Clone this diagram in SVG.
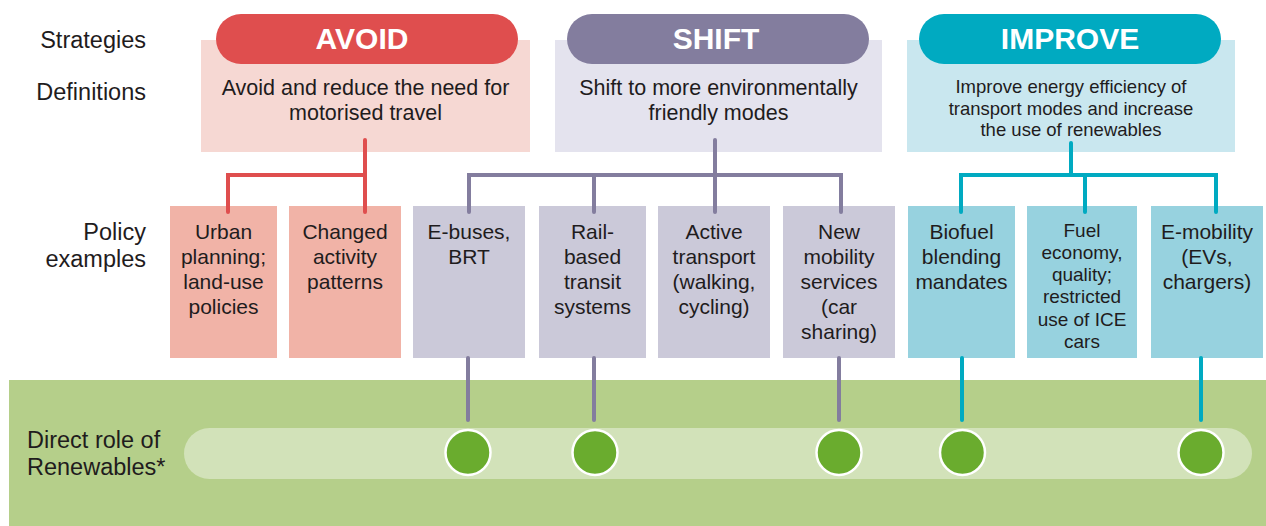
<svg xmlns="http://www.w3.org/2000/svg" width="1266" height="526" viewBox="0 0 1266 526">
  <style>
    .lbl { font-family: "Liberation Sans", Arial, sans-serif; font-size: 23.5px; fill: #1f1c1d; }
    .def { font-family: "Liberation Sans", Arial, sans-serif; font-size: 21.5px; fill: #1f1c1d; text-anchor: middle; }
    .def-s { font-family: "Liberation Sans", Arial, sans-serif; font-size: 18.5px; fill: #1f1c1d; text-anchor: middle; }
    .pol { font-family: "Liberation Sans", Arial, sans-serif; font-size: 21px; fill: #1f1c1d; text-anchor: middle; }
    .pol-s { font-family: "Liberation Sans", Arial, sans-serif; font-size: 19px; fill: #1f1c1d; text-anchor: middle; }
    .ttl { font-family: "Liberation Sans", Arial, sans-serif; font-size: 30px; font-weight: bold; fill: #ffffff; text-anchor: middle; }
    .avoid-line { stroke: #df4e4e; }
    .shift-line { stroke: #837d9e; }
    .improve-line { stroke: #00aac1; }
    .conn path { fill: none; stroke-width: 4; stroke-linecap: round; stroke-linejoin: miter; }
    .dot { fill: #6aac2e; stroke: #ffffff; stroke-width: 2.5; }
  </style>

  <!-- renewables band -->
  <g id="renewables-band">
    <rect x="9" y="380" width="1257" height="146" fill="#b5cf8a"/>
    <rect x="184" y="428" width="1068" height="51" rx="25.5" fill="#d2e2b9"/>
  </g>

  <!-- row labels -->
  <g id="row-labels">
    <text class="lbl" x="146" y="48" text-anchor="end">Strategies</text>
    <text class="lbl" x="146" y="100" text-anchor="end">Definitions</text>
    <text class="lbl" x="146" y="240" text-anchor="end">Policy</text>
    <text class="lbl" x="146" y="267" text-anchor="end">examples</text>
    <text class="lbl" x="27" y="448">Direct role of</text>
    <text class="lbl" x="27" y="475">Renewables*</text>
  </g>

  <!-- strategy headers with definitions -->
  <g id="avoid">
    <rect x="201" y="40" width="329" height="112" fill="#f6d8d3"/>
    <rect x="216" y="14" width="302" height="50" rx="25" fill="#df4e4e"/>
    <text class="ttl" x="362" y="49">AVOID</text>
    <text class="def" x="365.5" y="95">Avoid and reduce the need for</text>
    <text class="def" x="365.5" y="120">motorised travel</text>
  </g>
  <g id="shift">
    <rect x="555" y="40" width="327" height="112" fill="#e4e3ee"/>
    <rect x="567" y="14" width="302" height="50" rx="25" fill="#837d9e"/>
    <text class="ttl" x="716" y="49">SHIFT</text>
    <text class="def" x="718.5" y="95">Shift to more environmentally</text>
    <text class="def" x="718.5" y="120">friendly modes</text>
  </g>
  <g id="improve">
    <rect x="907" y="40" width="328" height="112" fill="#c9e7ef"/>
    <rect x="919" y="14" width="302" height="50" rx="25" fill="#00aac1"/>
    <text class="ttl" x="1070" y="49">IMPROVE</text>
    <text class="def-s" x="1071" y="93">Improve energy efficiency of</text>
    <text class="def-s" x="1071" y="115">transport modes and increase</text>
    <text class="def-s" x="1071" y="136">the use of renewables</text>
  </g>

  <!-- policy examples -->
  <g id="urban-planning">
    <rect x="170" y="206" width="107" height="152" fill="#f1b3a7"/>
    <text class="pol" x="223.5" y="239">Urban</text>
    <text class="pol" x="223.5" y="264">planning;</text>
    <text class="pol" x="223.5" y="289">land-use</text>
    <text class="pol" x="223.5" y="314">policies</text>
  </g>
  <g id="changed-activity">
    <rect x="289" y="206" width="112" height="152" fill="#f1b3a7"/>
    <text class="pol" x="345" y="239">Changed</text>
    <text class="pol" x="345" y="264">activity</text>
    <text class="pol" x="345" y="289">patterns</text>
  </g>
  <g id="e-buses">
    <rect x="413" y="206" width="112" height="152" fill="#cbc9d9"/>
    <text class="pol" x="469" y="239">E-buses,</text>
    <text class="pol" x="469" y="264">BRT</text>
  </g>
  <g id="rail-transit">
    <rect x="539" y="206" width="107" height="152" fill="#cbc9d9"/>
    <text class="pol" x="592.5" y="239">Rail-</text>
    <text class="pol" x="592.5" y="264">based</text>
    <text class="pol" x="592.5" y="289">transit</text>
    <text class="pol" x="592.5" y="314">systems</text>
  </g>
  <g id="active-transport">
    <rect x="658" y="206" width="112" height="152" fill="#cbc9d9"/>
    <text class="pol" x="714" y="239">Active</text>
    <text class="pol" x="714" y="264">transport</text>
    <text class="pol" x="714" y="289">(walking,</text>
    <text class="pol" x="714" y="314">cycling)</text>
  </g>
  <g id="new-mobility">
    <rect x="783" y="206" width="112" height="152" fill="#cbc9d9"/>
    <text class="pol" x="839" y="239">New</text>
    <text class="pol" x="839" y="264">mobility</text>
    <text class="pol" x="839" y="289">services</text>
    <text class="pol" x="839" y="314">(car</text>
    <text class="pol" x="839" y="339">sharing)</text>
  </g>
  <g id="biofuel-blending">
    <rect x="908" y="206" width="107" height="152" fill="#97d2df"/>
    <text class="pol" x="961.5" y="239">Biofuel</text>
    <text class="pol" x="961.5" y="264">blending</text>
    <text class="pol" x="961.5" y="289">mandates</text>
  </g>
  <g id="fuel-economy">
    <rect x="1027" y="206" width="110" height="152" fill="#97d2df"/>
    <text class="pol-s" x="1082" y="237">Fuel</text>
    <text class="pol-s" x="1082" y="259">economy,</text>
    <text class="pol-s" x="1082" y="281">quality;</text>
    <text class="pol-s" x="1082" y="303">restricted</text>
    <text class="pol-s" x="1082" y="326">use of ICE</text>
    <text class="pol-s" x="1082" y="348">cars</text>
  </g>
  <g id="e-mobility">
    <rect x="1151" y="206" width="112" height="152" fill="#97d2df"/>
    <text class="pol" x="1207" y="239">E-mobility</text>
    <text class="pol" x="1207" y="264">(EVs,</text>
    <text class="pol" x="1207" y="289">chargers)</text>
  </g>

  <!-- tree connectors and links to the renewables band -->
  <g id="connectors" class="conn">
    <path class="avoid-line" d="M365 140 V212 M365 175 H228 V212"/>
    <path class="shift-line" d="M715 140 V212 M469 212 V175 H841 V212 M594 175 V212"/>
    <path class="improve-line" d="M1071 143 V175 M961 212 V175 H1216 V212 M1085 175 V212"/>
    <path class="shift-line" d="M468 358 V420 M594 358 V420 M839 358 V420"/>
    <path class="improve-line" d="M962 358 V420 M1201 358 V420"/>
  </g>

  <!-- renewables markers -->
  <g id="markers">
    <circle class="dot" cx="468" cy="452.5" r="22.5"/>
    <circle class="dot" cx="595" cy="452.5" r="22.5"/>
    <circle class="dot" cx="839" cy="452.5" r="22.5"/>
    <circle class="dot" cx="962.5" cy="452.5" r="22.5"/>
    <circle class="dot" cx="1201" cy="452.5" r="22.5"/>
  </g>
</svg>
